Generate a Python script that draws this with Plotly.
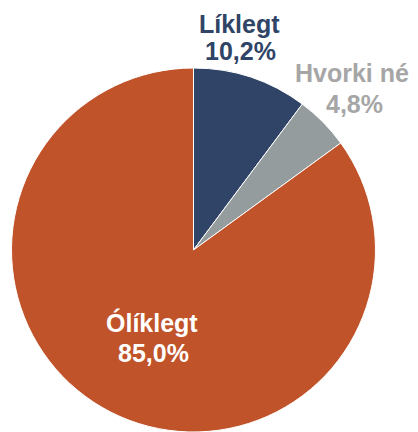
import plotly.graph_objects as go

labels = ["Líklegt", "Hvorki né", "Ólíklegt"]
values = [10.2, 4.8, 85.0]
slice_colors = ["#2F4466", "#959C9E", "#C0532A"]
text_colors = ["#2F4466", "#A6A6A6", "#FFFFFF"]
# label positions (paper coords): name line and percent line
name_pos = [(0.5646, 0.9634), (0.8402, 0.8474), (0.3524, 0.2583)]
pct_pos = [(0.568, 0.8993), (0.8463, 0.7741), (0.3549, 0.1875)]

fig = go.Figure(go.Pie(
    labels=labels,
    values=values,
    sort=False,
    direction="clockwise",
    rotation=0,
    marker=dict(colors=slice_colors, line=dict(color="white", width=1)),
    textinfo="none",
    hoverinfo="label+percent",
    domain=dict(x=[0.00854, 0.8963], y=[0.0, 0.8585]),
    showlegend=False,
))

font_family = "Liberation Sans, Arial, sans-serif"
for lab, val, col, npos, ppos in zip(labels, values, text_colors, name_pos, pct_pos):
    pct = f"{val:.1f}".replace(".", ",") + "%"
    for txt, (px, py) in ((lab, npos), (pct, ppos)):
        fig.add_annotation(
            x=px, y=py, xref="paper", yref="paper",
            xanchor="center", yanchor="middle",
            text=f"<b>{txt}</b>",
            showarrow=False,
            font=dict(family=font_family, size=25, color=col),
        )

# page body adds ~8px offset, so the figure is a bit smaller than the window
fig.update_layout(
    width=410,
    height=424,
    margin=dict(l=0, r=0, t=0, b=0),
    paper_bgcolor="white",
    plot_bgcolor="white",
)

fig.write_html("out.html", config={"displayModeBar": False})
